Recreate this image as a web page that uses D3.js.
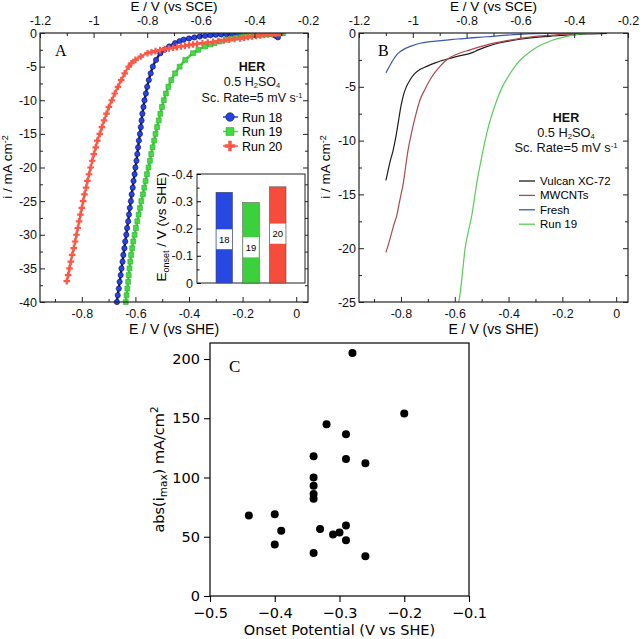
<!DOCTYPE html>
<html><head><meta charset="utf-8">
<script src="https://cdn.jsdelivr.net/npm/d3@7"></script>
<style>body{margin:0;background:#fff}svg{display:block}</style>
</head><body><svg id="c" width="640" height="639"></svg>
<script>
// ---------- Panel A data (E vs SHE, i mA cm-2) ----------
const run18 = [[-0.669,-40],[-0.666,-39],[-0.662,-38],[-0.659,-37],[-0.655,-36],[-0.652,-35],[-0.648,-34],[-0.645,-33],[-0.641,-32],[-0.638,-31],[-0.634,-30],[-0.631,-29],[-0.627,-28],[-0.624,-27],[-0.621,-26],[-0.617,-25],[-0.614,-24],[-0.610,-23],[-0.607,-22],[-0.603,-21],[-0.600,-20],[-0.596,-19],[-0.593,-18],[-0.590,-17],[-0.587,-16],[-0.583,-15],[-0.580,-14],[-0.577,-13],[-0.574,-12],[-0.570,-11],[-0.566,-10],[-0.561,-9],[-0.556,-8],[-0.550,-7],[-0.543,-6],[-0.535,-5],[-0.523,-4],[-0.507,-3],[-0.492,-2.5],[-0.474,-2],[-0.452,-1.5],[-0.435,-1.2],[-0.42,-1],[-0.40,-0.82],[-0.38,-0.66],[-0.36,-0.52],[-0.34,-0.42],[-0.32,-0.34],[-0.30,-0.27],[-0.28,-0.22],[-0.26,-0.18],[-0.24,-0.15],[-0.22,-0.12],[-0.20,-0.1],[-0.18,-0.09],[-0.16,-0.08],[-0.14,-0.08],[-0.12,-0.09],[-0.10,-0.12],[-0.085,-0.25],[-0.075,-0.45],[-0.068,-0.65]];
const run19 = [[-0.636,-40],[-0.633,-39],[-0.630,-38],[-0.627,-37],[-0.625,-36],[-0.622,-35],[-0.619,-34],[-0.616,-33],[-0.612,-32],[-0.608,-31],[-0.603,-30],[-0.598,-29],[-0.593,-28],[-0.588,-27],[-0.583,-26],[-0.578,-25],[-0.572,-24],[-0.567,-23],[-0.562,-22],[-0.557,-21],[-0.551,-20],[-0.546,-19],[-0.541,-18],[-0.536,-17],[-0.530,-16],[-0.525,-15],[-0.519,-14],[-0.513,-13],[-0.507,-12],[-0.501,-11],[-0.494,-10],[-0.486,-9],[-0.477,-8],[-0.466,-7],[-0.452,-6],[-0.435,-5],[-0.414,-4],[-0.385,-3],[-0.365,-2.5],[-0.340,-2],[-0.320,-1.7],[-0.305,-1.5],[-0.285,-1.25],[-0.262,-1],[-0.245,-0.85],[-0.225,-0.7],[-0.205,-0.58],[-0.19,-0.5],[-0.172,-0.42],[-0.155,-0.35],[-0.138,-0.29],[-0.12,-0.24],[-0.105,-0.18],[-0.09,-0.13],[-0.075,-0.08],[-0.062,-0.04],[-0.05,0]];
const run20 = [[-0.856,-36.9],[-0.851,-36],[-0.846,-35],[-0.841,-34],[-0.836,-33],[-0.830,-32],[-0.825,-31],[-0.820,-30],[-0.815,-29],[-0.810,-28],[-0.805,-27],[-0.800,-26],[-0.795,-25],[-0.790,-24],[-0.784,-23],[-0.779,-22],[-0.773,-21],[-0.767,-20],[-0.761,-19],[-0.755,-18],[-0.748,-17],[-0.742,-16],[-0.733,-15],[-0.725,-14],[-0.717,-13],[-0.708,-12],[-0.699,-11],[-0.688,-10],[-0.677,-9],[-0.665,-8],[-0.653,-7],[-0.640,-6],[-0.625,-5],[-0.615,-4.5],[-0.600,-4],[-0.580,-3.5],[-0.555,-3],[-0.540,-2.85],[-0.525,-2.7],[-0.508,-2.55],[-0.49,-2.4],[-0.475,-2.3],[-0.46,-2.2],[-0.445,-2.1],[-0.43,-2.0],[-0.415,-1.9],[-0.40,-1.8],[-0.385,-1.7],[-0.37,-1.6],[-0.35,-1.5],[-0.33,-1.4],[-0.31,-1.3],[-0.29,-1.2],[-0.27,-1.1],[-0.25,-1.0],[-0.23,-0.9],[-0.21,-0.8],[-0.195,-0.7],[-0.18,-0.6],[-0.165,-0.52],[-0.15,-0.45],[-0.135,-0.37],[-0.12,-0.3],[-0.105,-0.22],[-0.09,-0.15],[-0.077,-0.09],[-0.065,-0.05],[-0.05,0]];
// inset
const insetRuns = ["18","19","20"];
const insetOnset = [-0.333,-0.295,-0.353];
const insetLabelTop = [-0.197,-0.168,-0.218];
const insetLabelBottom = [-0.124,-0.094,-0.144];
const insetTicks = [0,-0.1,-0.2,-0.3,-0.4];
const insetMinor = [-0.05,-0.15,-0.25,-0.35];

// ---------- Panel B data ----------
const vulcan = [[-0.856,-13.7],[-0.848,-12.8],[-0.840,-11.9],[-0.830,-11.0],[-0.820,-9.8],[-0.810,-8.3],[-0.80,-6.8],[-0.79,-5.7],[-0.78,-5.0],[-0.766,-4.35],[-0.75,-3.8],[-0.73,-3.4],[-0.704,-3.1],[-0.67,-2.75],[-0.625,-2.4],[-0.58,-2.1],[-0.543,-1.9],[-0.51,-1.55],[-0.481,-1.27],[-0.44,-0.95],[-0.40,-0.75],[-0.357,-0.58],[-0.30,-0.4],[-0.235,-0.28],[-0.17,-0.18],[-0.108,-0.09],[-0.034,-0.03]];
const mwcnt = [[-0.856,-20.4],[-0.845,-19.5],[-0.835,-18.6],[-0.826,-17.8],[-0.816,-17.0],[-0.804,-15.5],[-0.791,-13.9],[-0.782,-12.3],[-0.773,-10.8],[-0.76,-9.2],[-0.745,-7.6],[-0.729,-6.2],[-0.71,-5.2],[-0.692,-4.35],[-0.675,-3.7],[-0.655,-3.1],[-0.625,-2.4],[-0.59,-1.95],[-0.543,-1.57],[-0.481,-1.1],[-0.42,-0.78],[-0.357,-0.5],[-0.30,-0.32],[-0.235,-0.19],[-0.18,-0.09],[-0.134,-0.03],[-0.09,0]];
const fresh = [[-0.856,-3.7],[-0.845,-3.2],[-0.835,-2.75],[-0.825,-2.35],[-0.815,-2.0],[-0.804,-1.75],[-0.785,-1.45],[-0.76,-1.2],[-0.729,-0.95],[-0.69,-0.8],[-0.65,-0.7],[-0.607,-0.6],[-0.55,-0.47],[-0.48,-0.35],[-0.42,-0.22],[-0.36,-0.12],[-0.30,-0.06],[-0.22,-0.02],[-0.13,0],[-0.06,0]];
const run19B = [[-0.585,-25],[-0.58,-24.2],[-0.571,-22.2],[-0.562,-20.1],[-0.55,-18.5],[-0.537,-17],[-0.527,-15.4],[-0.518,-13.9],[-0.506,-12.3],[-0.494,-10.8],[-0.478,-9],[-0.462,-7.6],[-0.443,-6.2],[-0.425,-5.1],[-0.40,-4.0],[-0.376,-3.1],[-0.35,-2.35],[-0.32,-1.75],[-0.294,-1.3],[-0.265,-0.95],[-0.235,-0.65],[-0.20,-0.4],[-0.16,-0.19],[-0.12,-0.07],[-0.06,0]];
const legendB = ["Vulcan XC-72","MWCNTs","Fresh","Run 19"];

// ---------- Panel C data ----------
const onset = [-0.28,-0.20,-0.32,-0.29,-0.34,-0.29,-0.26,-0.34,-0.34,-0.34,-0.34,-0.44,-0.40,-0.39,-0.40,-0.33,-0.31,-0.30,-0.29,-0.29,-0.34,-0.26];
const imax  = [205,154,145,136.5,118,115.6,112,100,93,86,82,68,69,55,43.5,56.5,52,53.5,59.5,47,36.3,33.5];

// ---------- ticks ----------
const sceTicks = [-1.2,-1,-0.8,-0.6,-0.4,-0.2];
const sceMinor = [-1.1,-0.9,-0.7,-0.5,-0.3];
const sheTicks = [-0.8,-0.6,-0.4,-0.2,0];
const sheMinor = [-0.9,-0.7,-0.5,-0.3,-0.1];
const yTicksA = [0,-5,-10,-15,-20,-25,-30,-35,-40];
const yMinorA = [-2.5,-7.5,-12.5,-17.5,-22.5,-27.5,-32.5,-37.5];
const yTicksB = [0,-5,-10,-15,-20,-25];
const yMinorB = [-2.5,-7.5,-12.5,-17.5,-22.5];
const cXTicks = [-0.5,-0.4,-0.3,-0.2,-0.1];
const cYTicks = [0,50,100,150,200];

const svg = d3.select("#c");
const SANS = "'Liberation Sans', Arial, sans-serif";
const SERIF = "'Liberation Serif', 'Times New Roman', serif";
const DJ = "'DejaVu Sans', sans-serif";
const fmtH = d => (d < 0 ? "-" : "") + Math.abs(d);

const pA = {x0:40, x1:308, y0:33, y1:302};
const pB = {x0:359, x1:628, y0:33, y1:302};
const pC = {x0:210, x1:469, y0:343, y1:596};

function frame(p, xs, xt, ys, yT, yM) {
  const g = svg.append("g").attr("font-family", SANS);
  const mk = (axis, tr) => {
    const a = g.append("g").attr("transform", tr).call(axis);
    a.select(".domain").remove();
    a.selectAll("line").attr("stroke", "#222");
    a.selectAll("text").attr("font-size", 12.5).attr("fill", "#111").attr("font-family", SANS);
    return a;
  };
  mk(d3.axisBottom(xs).tickValues(sheTicks).tickFormat(fmtH).tickSizeInner(-5).tickSizeOuter(0).tickPadding(7), `translate(0,${p.y1})`);
  mk(d3.axisBottom(xs).tickValues(sheMinor).tickFormat("").tickSizeInner(-3).tickSizeOuter(0), `translate(0,${p.y1})`);
  mk(d3.axisTop(xt).tickValues(sceTicks).tickFormat(fmtH).tickSizeInner(-5).tickSizeOuter(0).tickPadding(8), `translate(0,${p.y0})`);
  mk(d3.axisTop(xt).tickValues(sceMinor).tickFormat("").tickSizeInner(-3).tickSizeOuter(0), `translate(0,${p.y0})`);
  mk(d3.axisLeft(ys).tickValues(yT).tickFormat(fmtH).tickSizeInner(-5).tickSizeOuter(0).tickPadding(3), `translate(${p.x0},0)`);
  mk(d3.axisLeft(ys).tickValues(yM).tickFormat("").tickSizeInner(-3).tickSizeOuter(0), `translate(${p.x0},0)`);
  mk(d3.axisRight(ys).tickValues(yT).tickFormat("").tickSizeInner(-5).tickSizeOuter(0), `translate(${p.x1},0)`);
  mk(d3.axisRight(ys).tickValues(yM).tickFormat("").tickSizeInner(-3).tickSizeOuter(0), `translate(${p.x1},0)`);
  g.append("rect").attr("x", p.x0).attr("y", p.y0).attr("width", p.x1 - p.x0).attr("height", p.y1 - p.y0)
    .attr("fill", "none").attr("stroke", "#222").attr("stroke-width", 1.2);
  const cx = (p.x0 + p.x1) / 2;
  g.append("text").attr("x", cx).attr("y", 10.5).attr("text-anchor", "middle").attr("font-size", 13.5).text("E / V (vs SCE)");
  g.append("text").attr("x", cx).attr("y", 334).attr("text-anchor", "middle").attr("font-size", 14).text("E / V (vs SHE)");
}

function yLabelAB(x) {
  const t = svg.append("text").attr("font-family", SANS).attr("font-size", 13.5).attr("text-anchor", "middle")
    .attr("transform", `translate(${x},167) rotate(-90)`);
  t.append("tspan").text("i / mA cm");
  t.append("tspan").attr("font-size", 9).attr("dy", -4).text("-2");
}

// ======== Panel A ========
const xA = d3.scaleLinear().domain([-0.956, 0.044]).range([pA.x0, pA.x1]);
const xAt = d3.scaleLinear().domain([-1.2, -0.2]).range([pA.x0, pA.x1]);
const yA = d3.scaleLinear().domain([-40, 0]).range([pA.y1, pA.y0]);

svg.append("clipPath").attr("id", "clipA").append("rect")
  .attr("x", pA.x0).attr("y", pA.y0).attr("width", pA.x1 - pA.x0).attr("height", pA.y1 - pA.y0 + 3);
const gA = svg.append("g").attr("clip-path", "url(#clipA)");
const lineA = d3.line().x(d => xA(d[0])).y(d => yA(d[1])).curve(d3.curveMonotoneX);
const seriesA = [
  {data: run18, line: "#14145a", lw: 2.4, fill: "#2444e4", stroke: "#10105a", sym: d3.symbolCircle, size: 22},
  {data: run19, line: "#3ed43e", lw: 2.4, fill: "#42dc42", stroke: "#2fa82f", sym: d3.symbolSquare, size: 24},
  {data: run20, line: "#ff5646", lw: 2.2, fill: "#ff5646", stroke: "none", sym: d3.symbolCross, size: 24}
];
seriesA.forEach(s => {
  const sorted = s.data.slice().sort((a, b) => a[0] - b[0]);
  gA.append("path").attr("d", lineA(sorted)).attr("fill", "none").attr("stroke", s.line).attr("stroke-width", s.lw);
  gA.selectAll(null).data(s.data).join("path")
    .attr("transform", d => `translate(${xA(d[0])},${yA(d[1])})`)
    .attr("d", d3.symbol().type(s.sym).size(s.size))
    .attr("fill", s.fill).attr("stroke", s.stroke).attr("stroke-width", 0.6);
});
frame(pA, xA, xAt, yA, yTicksA, yMinorA);
yLabelAB(12);
svg.append("text").attr("x", 55).attr("y", 56).attr("font-family", SERIF).attr("font-size", 16).text("A");

// header text
function header(cx, y0, size, spacing) {
  const g = svg.append("g").attr("font-family", SANS).attr("text-anchor", "middle").attr("fill", "#111");
  g.append("text").attr("x", cx).attr("y", y0).attr("font-size", 12.5).attr("font-weight", "bold").text("HER");
  const t2 = g.append("text").attr("x", cx).attr("y", y0 + spacing).attr("font-size", size);
  t2.append("tspan").text("0.5 H");
  t2.append("tspan").attr("font-size", size * 0.6).attr("dy", 2).text("2");
  t2.append("tspan").attr("dy", -2).text("SO");
  t2.append("tspan").attr("font-size", size * 0.6).attr("dy", 2).text("4");
  const t3 = g.append("text").attr("x", cx).attr("y", y0 + 2 * spacing + 0.5).attr("font-size", size);
  t3.append("tspan").text("Sc. Rate=5 mV s");
  t3.append("tspan").attr("font-size", size * 0.6).attr("dy", -4).text("-1");
}
header(252, 71, 12.5, 15);

// legend A
const legA = ["Run 18", "Run 19", "Run 20"];
legA.forEach((name, k) => {
  const s = seriesA[k];
  const y = 117 + k * 14.5;
  svg.append("line").attr("x1", 223).attr("x2", 238).attr("y1", y).attr("y2", y).attr("stroke", s.fill).attr("stroke-width", 1.5);
  svg.append("path").attr("transform", `translate(230,${y})`)
    .attr("d", d3.symbol().type(s.sym).size(s.size * 2.6)).attr("fill", s.fill).attr("stroke", s.stroke).attr("stroke-width", 0.6);
  svg.append("text").attr("x", 242).attr("y", y + 4.5).attr("font-family", SANS).attr("font-size", 12.5).text(name);
});

// inset
const xI = d3.scaleBand().domain(insetRuns).range([197, 305]).paddingInner(0.38).paddingOuter(0.71);
const yI = d3.scaleLinear().domain([0, -0.4]).range([283, 174]);
const insetColors = ["#2748e2", "#3cd03c", "#f64c3c"];
svg.append("rect").attr("x", 197).attr("y", 174).attr("width", 108).attr("height", 109).attr("fill", "#fff").attr("stroke", "#222").attr("stroke-width", 1);
insetRuns.forEach((r, k) => {
  const x = xI(r), w = xI.bandwidth();
  svg.append("rect").attr("x", x).attr("y", yI(insetOnset[k])).attr("width", w).attr("height", yI(0) - yI(insetOnset[k]))
    .attr("fill", insetColors[k]).attr("stroke", "#444").attr("stroke-width", 0.5);
  svg.append("rect").attr("x", x + 0.5).attr("y", yI(insetLabelTop[k])).attr("width", w - 1).attr("height", yI(insetLabelBottom[k]) - yI(insetLabelTop[k])).attr("fill", "#fff");
  svg.append("text").attr("x", x + w / 2).attr("y", (yI(insetLabelTop[k]) + yI(insetLabelBottom[k])) / 2 + 3.5)
    .attr("text-anchor", "middle").attr("font-family", SANS).attr("font-size", 9.5).text(r);
});
{
  const a = svg.append("g").attr("transform", "translate(197,0)")
    .call(d3.axisLeft(yI).tickValues(insetTicks).tickFormat(fmtH).tickSizeInner(-4).tickSizeOuter(0).tickPadding(4));
  a.select(".domain").remove();
  a.selectAll("text").attr("font-size", 12.5).attr("font-family", SANS).attr("fill", "#111");
  const b = svg.append("g").attr("transform", "translate(197,0)")
    .call(d3.axisLeft(yI).tickValues(insetMinor).tickFormat("").tickSizeInner(-2.5).tickSizeOuter(0));
  b.select(".domain").remove();
  const t = svg.append("text").attr("font-family", SANS).attr("font-size", 13.5).attr("text-anchor", "middle")
    .attr("transform", "translate(166,227) rotate(-90)");
  t.append("tspan").text("E");
  t.append("tspan").attr("font-size", 9).attr("dy", 3).text("onset");
  t.append("tspan").attr("dy", -3).text(" / V (vs SHE)");
}

// ======== Panel B ========
const xB = d3.scaleLinear().domain([-0.956, 0.044]).range([pB.x0, pB.x1]);
const xBt = d3.scaleLinear().domain([-1.2, -0.2]).range([pB.x0, pB.x1]);
const yB = d3.scaleLinear().domain([-25, 0]).range([pB.y1, pB.y0]);
svg.append("clipPath").attr("id", "clipB").append("rect")
  .attr("x", pB.x0).attr("y", pB.y0).attr("width", pB.x1 - pB.x0).attr("height", pB.y1 - pB.y0);
const gB = svg.append("g").attr("clip-path", "url(#clipB)");
const lineB = d3.line().x(d => xB(d[0])).y(d => yB(d[1])).curve(d3.curveMonotoneX);
const seriesB = [
  {data: fresh, color: "#3a58b4"},
  {data: vulcan, color: "#1e1e1e"},
  {data: mwcnt, color: "#ad4a4e"},
  {data: run19B, color: "#5acc5a"}
];
seriesB.forEach(s => {
  gB.append("path").attr("d", lineB(s.data)).attr("fill", "none").attr("stroke", s.color).attr("stroke-width", 1.2);
});
frame(pB, xB, xBt, yB, yTicksB, yMinorB);
yLabelAB(330);
svg.append("text").attr("x", 378).attr("y", 56).attr("font-family", SERIF).attr("font-size", 16).text("B");
header(566, 122, 12.8, 14.5);
const legColors = ["#1e1e1e", "#ad4a4e", "#3a58b4", "#5acc5a"];
legendB.forEach((name, k) => {
  const y = 181 + k * 14.4;
  svg.append("line").attr("x1", 519).attr("x2", 535).attr("y1", y).attr("y2", y).attr("stroke", legColors[k]).attr("stroke-width", 1.3);
  svg.append("text").attr("x", 540).attr("y", y + 4).attr("font-family", SANS).attr("font-size", 11.5).text(name);
});

// ======== Panel C ========
const xC = d3.scaleLinear().domain([-0.5, -0.1]).range([pC.x0, pC.x1]);
const yC = d3.scaleLinear().domain([0, 213.5]).range([pC.y1, pC.y0]);
{
  const ax = svg.append("g").attr("transform", `translate(0,${pC.y1})`)
    .call(d3.axisBottom(xC).tickValues(cXTicks).tickFormat(d3.format(".1f")).tickSizeInner(6).tickSizeOuter(0).tickPadding(5.5));
  const ay = svg.append("g").attr("transform", `translate(${pC.x0},0)`)
    .call(d3.axisLeft(yC).tickValues(cYTicks).tickFormat(d3.format("d")).tickSizeInner(6).tickSizeOuter(0).tickPadding(4));
  [ax, ay].forEach(a => {
    a.select(".domain").remove();
    a.selectAll("line").attr("stroke", "#000").attr("stroke-width", 1.1);
    a.selectAll("text").attr("font-family", DJ).attr("font-size", 14.5).attr("fill", "#000");
  });
  svg.append("rect").attr("x", pC.x0).attr("y", pC.y0).attr("width", pC.x1 - pC.x0).attr("height", pC.y1 - pC.y0)
    .attr("fill", "none").attr("stroke", "#000").attr("stroke-width", 1.2);
  svg.selectAll(null).data(onset.map((o, k) => [o, imax[k]])).join("circle")
    .attr("cx", d => xC(d[0])).attr("cy", d => yC(d[1])).attr("r", 4).attr("fill", "#000");
  svg.append("text").attr("x", (pC.x0 + pC.x1) / 2).attr("y", 635).attr("text-anchor", "middle")
    .attr("font-family", DJ).attr("font-size", 14.5).text("Onset Potential (V vs SHE)");
  const t = svg.append("text").attr("font-family", DJ).attr("font-size", 14.5).attr("text-anchor", "middle")
    .attr("transform", `translate(164,${(pC.y0 + pC.y1) / 2}) rotate(-90)`);
  t.append("tspan").text("abs(i");
  t.append("tspan").attr("font-size", 10.5).attr("dy", 3).text("max");
  t.append("tspan").attr("dy", -3).text(") mA/cm");
  t.append("tspan").attr("font-size", 10.5).attr("dy", -6).text("2");
  svg.append("text").attr("x", 229).attr("y", 372).attr("font-family", SERIF).attr("font-size", 17).text("C");
}
</script></body></html>
